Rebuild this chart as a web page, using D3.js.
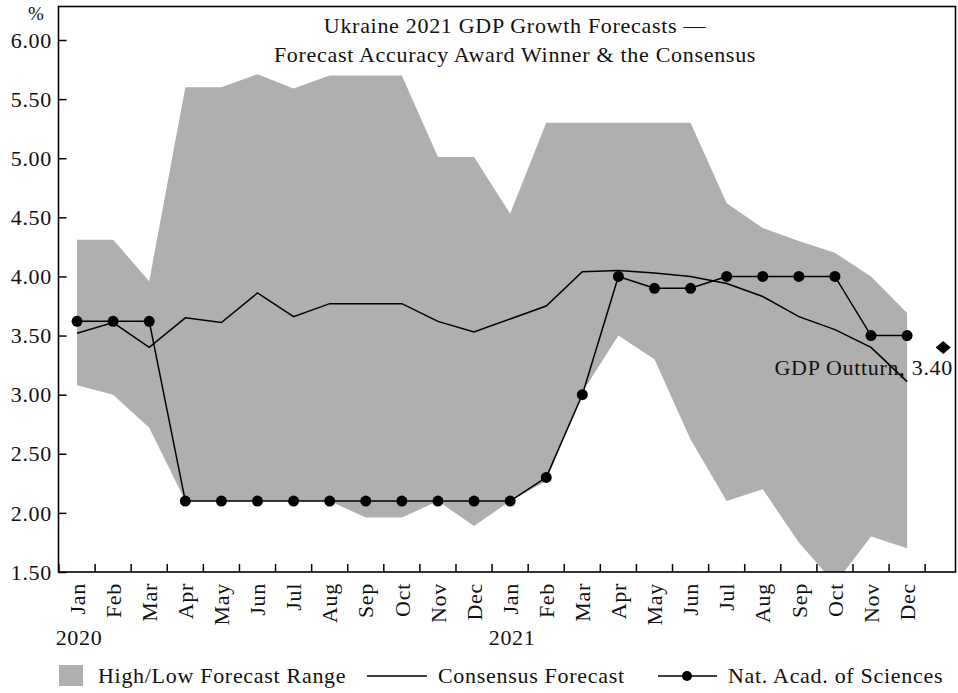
<!DOCTYPE html>
<html>
<head>
<meta charset="utf-8">
<script src="https://cdn.jsdelivr.net/npm/d3@7"></script>
<style>
  html, body { margin: 0; padding: 0; background: #fff; }
  svg { display: block; }
  text { font-family: "Liberation Serif", "Times New Roman", serif; fill: #111; }
</style>
</head>
<body>
<svg id="chart" width="958" height="693"></svg>
<script>
// ---- Data ----
const categories = ["Jan 2020","Feb 2020","Mar 2020","Apr 2020","May 2020","Jun 2020","Jul 2020","Aug 2020","Sep 2020","Oct 2020","Nov 2020","Dec 2020",
                    "Jan 2021","Feb 2021","Mar 2021","Apr 2021","May 2021","Jun 2021","Jul 2021","Aug 2021","Sep 2021","Oct 2021","Nov 2021","Dec 2021","Outturn"];
const monthLabels = ["Jan","Feb","Mar","Apr","May","Jun","Jul","Aug","Sep","Oct","Nov","Dec",
                     "Jan","Feb","Mar","Apr","May","Jun","Jul","Aug","Sep","Oct","Nov","Dec",""];
const yearLabels = [{cat: "Jan 2020", label: "2020"}, {cat: "Jan 2021", label: "2021"}];
const highForecast = [4.31,4.31,3.96,5.60,5.60,5.71,5.59,5.70,5.70,5.70,5.01,5.01,4.53,5.30,5.30,5.30,5.30,5.30,4.62,4.41,4.30,4.20,4.00,3.69];
const lowForecast  = [3.08,3.00,2.72,2.10,2.10,2.10,2.10,2.10,1.96,1.96,2.10,1.89,2.10,2.27,3.02,3.50,3.30,2.62,2.10,2.20,1.75,1.40,1.80,1.70];
const consensus    = [3.52,3.61,3.40,3.65,3.61,3.86,3.66,3.77,3.77,3.77,3.62,3.53,3.64,3.75,4.04,4.05,4.03,4.00,3.94,3.83,3.66,3.55,3.40,3.11];
const natAcad      = [3.62,3.62,3.62,2.10,2.10,2.10,2.10,2.10,2.10,2.10,2.10,2.10,2.10,2.30,3.00,4.00,3.90,3.90,4.00,4.00,4.00,4.00,3.50,3.50];
const outturn = {cat: "Outturn", value: 3.40, label: "GDP Outturn, 3.40"};
const yTicks = [1.5, 2.0, 2.5, 3.0, 3.5, 4.0, 4.5, 5.0, 5.5, 6.0];
const titleLines = ["Ukraine 2021 GDP Growth Forecasts \u2014", "Forecast Accuracy Award Winner & the Consensus"];
const legendItems = ["High/Low Forecast Range", "Consensus Forecast", "Nat. Acad. of Sciences"];

// ---- Layout ----
const frame = {left: 58.5, top: 6.5, right: 955.5, bottom: 572};
const step = 36.09;
const gray = "#afafaf";
const fontSize = 22;
const ls = "0.7px";

const svg = d3.select("#chart");

const x = d3.scaleBand().domain(categories).range([59, 59 + step * categories.length]).padding(0);
const cx = c => x(c) + x.bandwidth() / 2;
const y = d3.scaleLinear().domain([1.5, 6.0]).range([572, 40]);

const monthCats = categories.slice(0, 24);

svg.append("defs").append("clipPath").attr("id", "plotclip")
  .append("rect").attr("x", frame.left).attr("y", frame.top)
  .attr("width", frame.right - frame.left).attr("height", frame.bottom - frame.top);

const plot = svg.append("g").attr("clip-path", "url(#plotclip)");

// Range area
const area = d3.area()
  .x((d, i) => cx(monthCats[i]))
  .y0((d, i) => y(lowForecast[i]))
  .y1((d, i) => y(highForecast[i]));
plot.append("path").datum(highForecast).attr("d", area).attr("fill", gray);

// Consensus line
const line = d3.line().x((d, i) => cx(monthCats[i])).y(d => y(d));
plot.append("path").datum(consensus).attr("d", line)
  .attr("fill", "none").attr("stroke", "#000").attr("stroke-width", 1.5);

// Nat Acad line + dots
plot.append("path").datum(natAcad).attr("d", line)
  .attr("fill", "none").attr("stroke", "#000").attr("stroke-width", 1.5);
plot.selectAll("circle.nas").data(natAcad).join("circle")
  .attr("class", "nas")
  .attr("cx", (d, i) => cx(monthCats[i])).attr("cy", d => y(d)).attr("r", 5.5)
  .attr("fill", "#000");

// Outturn diamond
plot.append("path")
  .attr("transform", `translate(${cx(outturn.cat)},${y(outturn.value)})`)
  .attr("d", "M0,-6.5L7.5,0L0,6.5L-7.5,0Z").attr("fill", "#000");
svg.append("text").attr("x", 953).attr("y", y(outturn.value) + 28)
  .attr("text-anchor", "end").attr("font-size", fontSize).style("letter-spacing", ls)
  .text(outturn.label);

// Frame
svg.append("rect").attr("x", frame.left).attr("y", frame.top)
  .attr("width", frame.right - frame.left).attr("height", frame.bottom - frame.top)
  .attr("fill", "none").attr("stroke", "#000").attr("stroke-width", 1.6);

// Y axis (inward ticks)
const yAxis = d3.axisRight(y).tickValues(yTicks).tickSize(8).tickFormat("");
const gy = svg.append("g").attr("transform", `translate(${frame.left},0)`).call(yAxis);
gy.select(".domain").remove();
gy.selectAll(".tick line").attr("stroke-width", 1.5);
svg.selectAll("text.ylab").data(yTicks).join("text")
  .attr("class", "ylab")
  .attr("x", 52).attr("y", d => y(d)).attr("dy", "0.35em")
  .attr("text-anchor", "end").attr("font-size", fontSize).style("letter-spacing", ls)
  .text(d => d.toFixed(2));
svg.append("text").attr("x", 36).attr("y", 20).attr("text-anchor", "middle")
  .attr("font-size", 19).text("%");

// X axis ticks at band boundaries (inward)
const boundaries = categories.slice(0, 25).map(c => x(c));
svg.selectAll("line.xtick").data(boundaries).join("line")
  .attr("class", "xtick")
  .attr("x1", d => d).attr("x2", d => d)
  .attr("y1", frame.bottom).attr("y2", frame.bottom - 8)
  .attr("stroke", "#000").attr("stroke-width", 1.5);

// Month labels rotated
svg.selectAll("text.xlab").data(categories).join("text")
  .attr("class", "xlab")
  .attr("transform", d => `translate(${cx(d)},583) rotate(-90)`)
  .attr("dy", "0.35em")
  .attr("text-anchor", "end").attr("font-size", fontSize).style("letter-spacing", ls)
  .text((d, i) => monthLabels[i]);

// Year labels
svg.selectAll("text.year").data(yearLabels).join("text")
  .attr("class", "year")
  .attr("x", d => cx(d.cat) + 2).attr("y", 645)
  .attr("text-anchor", "middle").attr("font-size", fontSize).style("letter-spacing", ls)
  .text(d => d.label);

// Title
svg.selectAll("text.title").data(titleLines).join("text")
  .attr("class", "title")
  .attr("x", 515).attr("y", (d, i) => 33 + i * 29)
  .attr("text-anchor", "middle").attr("font-size", fontSize).style("letter-spacing", ls)
  .text(d => d);

// Legend
const lg = svg.append("g");
lg.append("rect").attr("x", 59).attr("y", 665).attr("width", 24).attr("height", 21).attr("fill", gray);
lg.append("text").attr("x", 98).attr("y", 683).attr("font-size", fontSize).style("letter-spacing", ls).text(legendItems[0]);
lg.append("line").attr("x1", 367).attr("x2", 427).attr("y1", 676).attr("y2", 676).attr("stroke", "#000").attr("stroke-width", 1.5);
lg.append("text").attr("x", 438).attr("y", 683).attr("font-size", fontSize).style("letter-spacing", ls).text(legendItems[1]);
lg.append("line").attr("x1", 658).attr("x2", 717).attr("y1", 676).attr("y2", 676).attr("stroke", "#000").attr("stroke-width", 1.5);
lg.append("circle").attr("cx", 687).attr("cy", 676).attr("r", 5).attr("fill", "#000");
lg.append("text").attr("x", 728).attr("y", 683).attr("font-size", fontSize).style("letter-spacing", ls).text(legendItems[2]);
</script>
</body>
</html>
